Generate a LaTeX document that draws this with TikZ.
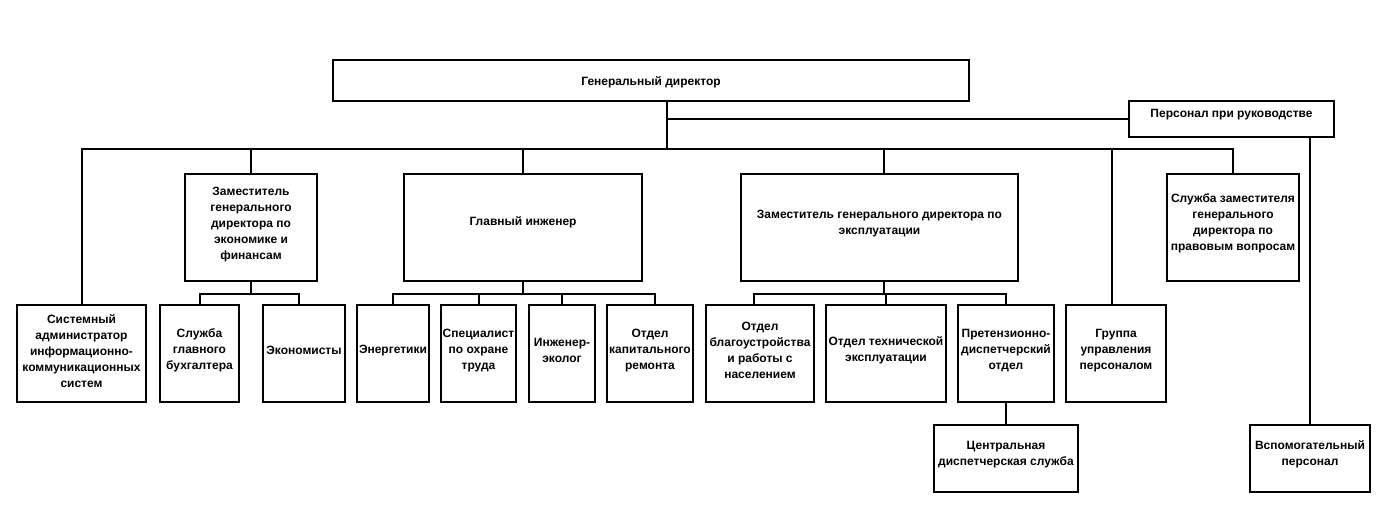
\documentclass[tikz,border=0pt]{standalone}
\usepackage{fontspec}
\setmainfont{Liberation Sans}
\begin{document}
\begin{tikzpicture}[x=1pt,y=-1pt,
  box/.style={draw, line width=2pt, inner sep=0pt},
  txt/.style={font=\bfseries\fontsize{12}{16}\selectfont, align=center, inner sep=0pt, yshift=-1.5pt},
  link/.style={line width=2pt}]
\useasboundingbox (0,0) rectangle (1382,515);
% boxes
\node[box, minimum width=636pt, minimum height=41pt] (gd) at (651,80.5) {};
\node[box, minimum width=205pt, minimum height=36pt] (pers) at (1231.5,119) {};
\node[box, minimum width=132pt, minimum height=107pt] (zamec) at (251,227.5) {};
\node[box, minimum width=238pt, minimum height=107pt] (ing) at (523,227.5) {};
\node[box, minimum width=277pt, minimum height=107pt] (zamex) at (879.5,227.5) {};
\node[box, minimum width=132pt, minimum height=107pt] (zamlaw) at (1233,227.5) {};
\node[box, minimum width=129pt, minimum height=97pt] (sysad) at (81.5,353.5) {};
\node[box, minimum width=79pt, minimum height=97pt] (buh) at (199.5,353.5) {};
\node[box, minimum width=82pt, minimum height=97pt] (econ) at (304,353.5) {};
\node[box, minimum width=72pt, minimum height=97pt] (en) at (393,353.5) {};
\node[box, minimum width=75pt, minimum height=97pt] (spec) at (478.5,353.5) {};
\node[box, minimum width=66pt, minimum height=97pt] (eco) at (562,353.5) {};
\node[box, minimum width=86pt, minimum height=97pt] (kap) at (650,353.5) {};
\node[box, minimum width=108pt, minimum height=97pt] (blag) at (760,353.5) {};
\node[box, minimum width=120pt, minimum height=97pt] (tech) at (886,353.5) {};
\node[box, minimum width=96pt, minimum height=97pt] (pret) at (1006,353.5) {};
\node[box, minimum width=100pt, minimum height=97pt] (grp) at (1116,353.5) {};
\node[box, minimum width=144pt, minimum height=67pt] (central) at (1006,458.5) {};
\node[box, minimum width=120pt, minimum height=67pt] (vsp) at (1310,458.5) {};
% texts
\node[txt] (gd-t) at (651,81) {Генеральный директор};
\node[txt] (pers-t) at (1231.5,113) {Персонал при руководстве};
\node[txt] (zamec-t) at (251,223) {Заместитель\\генерального\\директора по\\экономике и\\финансам};
\node[txt] (ing-t) at (523,221) {Главный инженер};
\node[txt] (zamex-t) at (879.5,222) {Заместитель генерального директора по\\эксплуатации};
\node[txt] (zamlaw-t) at (1233,222) {Служба заместителя\\генерального\\директора по\\правовым вопросам};
\node[txt] (sysad-t) at (81.5,350) {Системный\\администратор\\информационно-\\коммуникационных\\систем};
\node[txt] (buh-t) at (199.5,349) {Служба\\главного\\бухгалтера};
\node[txt] (econ-t) at (304,349) {Экономисты};
\node[txt] (en-t) at (393,349) {Энергетики};
\node[txt] (spec-t) at (478.5,349) {Специалист\\по охране\\труда};
\node[txt] (eco-t) at (562,349) {Инженер-\\эколог};
\node[txt] (kap-t) at (650,349) {Отдел\\капитального\\ремонта};
\node[txt] (blag-t) at (760,349) {Отдел\\благоустройства\\и работы с\\населением};
\node[txt] (tech-t) at (886,349) {Отдел технической\\эксплуатации};
\node[txt] (pret-t) at (1006,349) {Претензионно-\\диспетчерский\\отдел};
\node[txt] (grp-t) at (1116,349) {Группа\\управления\\персоналом};
\node[txt] (central-t) at (1006,453) {Центральная\\диспетчерская служба};
\node[txt] (vsp-t) at (1310,453) {Вспомогательный\\персонал};
% connectors
\coordinate (bus) at (667,149);
\draw[link] (bus |- gd.south) -- (bus);
\draw[link] (sysad.north) -- (sysad.north |- bus) -- (zamlaw.north |- bus) -- (zamlaw.north);
\draw[link] (zamec.north) -- (zamec.north |- bus);
\draw[link] (ing.north) -- (ing.north |- bus);
\coordinate (zx) at (884,149);
\draw[link] (zx |- zamex.north) -- (zx);
\draw[link] ([xshift=-4pt]grp.north) -- ([xshift=-4pt]grp.north |- bus);
\draw[link] (bus |- pers.west) -- (pers.west);
\draw[link] (vsp.north) -- (vsp.north |- pers.south);
% economy
\coordinate (eb) at (251,294);
\draw[link] (zamec.south) -- (eb);
\draw[link] (buh.north) -- (buh.north |- eb) -- ([xshift=-5pt]econ.north |- eb) -- ([xshift=-5pt]econ.north);
% engineer
\coordinate (ib) at (523,294);
\draw[link] (ing.south) -- (ib);
\draw[link] (en.north) -- (en.north |- ib) -- ([xshift=5pt]kap.north |- ib) -- ([xshift=5pt]kap.north);
\draw[link] (spec.north) -- (spec.north |- ib);
\draw[link] (eco.north) -- (eco.north |- ib);
% exploitation
\coordinate (xb) at (884,294);
\draw[link] (xb |- zamex.south) -- (xb);
\draw[link] ([xshift=-6pt]blag.north) -- ([xshift=-6pt]blag.north |- xb) -- (pret.north |- xb) -- (pret.north);
\draw[link] (tech.north) -- (tech.north |- xb);
\draw[link] (pret.south) -- (central.north);
\end{tikzpicture}
\end{document}
